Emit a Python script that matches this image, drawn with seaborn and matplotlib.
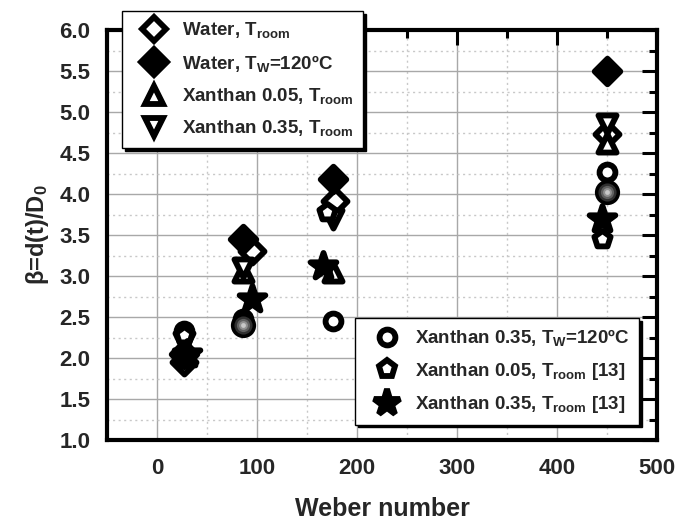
import numpy as np
import pandas as pd
import matplotlib
matplotlib.use("Agg")
import matplotlib.pyplot as plt
import seaborn as sns
from matplotlib.lines import Line2D
from matplotlib.ticker import MultipleLocator

# ---- data ----
we_water_room = [27, 95, 178, 450]
beta_water_room = [1.95, 3.30, 3.92, 4.73]

we_water_120 = [27, 86, 176, 450]
beta_water_120 = [2.05, 3.45, 4.18, 5.50]

we_xan005_room = [27, 86, 176, 450]
beta_xan005_room = [2.10, 3.05, 3.05, 4.62]

we_xan035_room = [27, 86, 176, 450]
beta_xan035_room = [2.20, 3.10, 3.70, 4.85]

we_xan035_120 = [27, 86, 176, 450]
beta_xan035_120 = [2.33, 2.48, 2.45, 4.27]

we_xan005_lit = [27, 170, 445]
beta_xan005_lit = [2.28, 3.78, 3.45]

we_xan035_lit = [30, 95, 166, 445]
beta_xan035_lit = [2.05, 2.72, 3.12, 3.70]

we_sphere = [86, 450]
beta_sphere = [2.40, 4.03]

labels_top = ["Water, T$_{room}$", "Water, T$_{W}$=120ºC",
              "Xanthan 0.05, T$_{room}$", "Xanthan 0.35, T$_{room}$"]
labels_bottom = ["Xanthan 0.35, T$_{W}$=120ºC", "Xanthan 0.05, T$_{room}$ [13]",
                 "Xanthan 0.35, T$_{room}$ [13]"]

sns.set_theme(style="white")
plt.rcParams["font.family"] = ["Liberation Sans", "DejaVu Sans"]
plt.rcParams["font.weight"] = "bold"
plt.rcParams["mathtext.fontset"] = "custom"
plt.rcParams["mathtext.rm"] = "Liberation Sans:bold"
plt.rcParams["mathtext.it"] = "Liberation Sans:bold"
plt.rcParams["mathtext.bf"] = "Liberation Sans:bold"

W, H = 680, 526
fig = plt.figure(figsize=(W / 100, H / 100), dpi=100)
ax = fig.add_axes([107 / W, 1 - 440 / H, 550 / W, 410 / H])

LW = 4.2
series = [
    (we_water_room, beta_water_room, "D", "white", 150),
    (we_water_120, beta_water_120, "D", "black", 170),
    (we_xan005_room, beta_xan005_room, "^", "white", 170),
    (we_xan035_room, beta_xan035_room, "v", "white", 170),
    (we_xan035_120, beta_xan035_120, "o", "white", 130),
    (we_xan005_lit, beta_xan005_lit, "p", "white", 150),
    (we_xan035_lit, beta_xan035_lit, "*", "black", 380),
]
for x, y, m, fc, s in series:
    sns.scatterplot(x=x, y=y, ax=ax, marker=m, s=s, color=fc, edgecolor="black",
                    linewidth=LW, zorder=3, legend=False)

# shaded sphere markers
for s, c in [(330, "black"), (170, "#303030"), (90, "#606060"), (40, "#909090"), (12, "#c8c8c8")]:
    sns.scatterplot(x=we_sphere, y=beta_sphere, ax=ax, marker="o", s=s, color=c,
                    linewidth=0, zorder=3, legend=False)

ax.set_xlim(-50, 500)
ax.set_ylim(1.0, 6.0)
ax.xaxis.set_major_locator(MultipleLocator(100))
ax.xaxis.set_minor_locator(MultipleLocator(50))
ax.yaxis.set_major_locator(MultipleLocator(0.5))
ax.yaxis.set_minor_locator(MultipleLocator(0.25))
ax.yaxis.set_major_formatter(matplotlib.ticker.FormatStrFormatter("%.1f"))

ax.set_axisbelow(True)
ax.grid(which="major", color="#a8a8a8", lw=1.0, ls="-")
ax.grid(which="minor", color="#c8c8c8", lw=1.0, ls=(0, (1.5, 2.5)))

for sp in ax.spines.values():
    sp.set_linewidth(3.0)
    sp.set_color("black")

ax.tick_params(which="both", direction="in", top=True, right=True, width=2.2,
               color="black", labelsize=16)
ax.tick_params(which="major", length=11)
ax.tick_params(which="minor", length=5.5)
ax.tick_params(axis="x", which="major", pad=13)
ax.tick_params(axis="y", which="major", pad=12)

ax.set_xlabel("Weber number", fontsize=18, fontweight="bold", labelpad=13)
ax.set_ylabel("β=d(t)/D$_0$", fontsize=17, fontweight="bold", labelpad=6)


def handle(m, fc, s):
    return Line2D([], [], marker=m, linestyle="none", markersize=np.sqrt(s),
                  markerfacecolor=fc, markeredgecolor="black", markeredgewidth=LW)


h_top = [handle(*sp[2:]) for sp in series[:4]]
h_bot = [handle(*sp[2:]) for sp in series[4:]]

common = dict(frameon=True, fancybox=False, shadow={"color": "black", "alpha": 1.0},
              prop={"size": 13.5, "weight": "bold"}, handlelength=2.4,
              handletextpad=0.3, borderpad=0.5, labelspacing=0.66,
              bbox_transform=fig.transFigure, borderaxespad=0)
leg1 = ax.legend(h_top, labels_top, loc="upper left",
                 bbox_to_anchor=(122 / W, 1 - 11 / H), **common)
leg1.get_frame().set_edgecolor("black")
leg1.get_frame().set_linewidth(1.0)
leg1.set_zorder(5)
ax.add_artist(leg1)
leg2 = ax.legend(h_bot, labels_bottom, loc="upper left",
                 bbox_to_anchor=(355 / W, 1 - 318 / H), **common)
leg2.get_frame().set_edgecolor("black")
leg2.get_frame().set_linewidth(1.0)
leg2.set_zorder(5)

fig.savefig("out.png", dpi=100)
